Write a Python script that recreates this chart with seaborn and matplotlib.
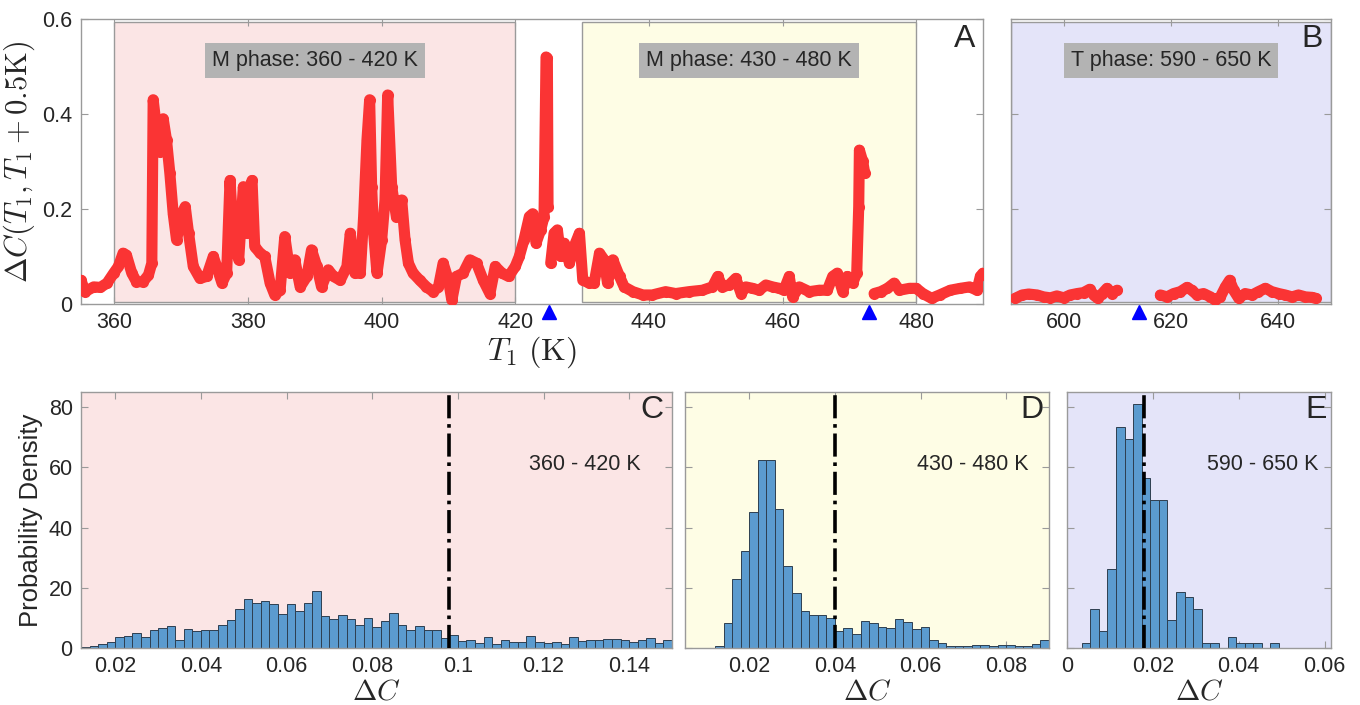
import numpy as np
import pandas as pd
import seaborn as sns
import matplotlib.pyplot as plt
from matplotlib.patches import Rectangle
from matplotlib.ticker import FuncFormatter

# ---- panel A / B : Delta C vs T1 (segments split at the phase transitions) ----
t_a1 = [355.0, 355.6, 356.9, 357.9, 358.9, 359.9, 360.6, 361.3, 361.8, 362.6, 363.3, 364.3, 365.1, 365.6,
        365.8, 366.3, 366.8, 367.3, 367.8, 368.3, 368.8, 369.3, 370.1, 370.6, 371.1, 371.8, 372.8, 373.8,
        374.8, 375.3, 376.1, 376.8, 377.3, 377.8, 378.6, 379.3, 379.8, 380.3, 380.6, 381.0, 381.8, 382.5,
        383.3, 384.0, 384.8, 385.5, 386.3, 387.0, 387.8, 388.8, 389.5, 390.3, 391.0, 392.0, 392.8, 393.8,
        394.8, 395.3, 396.0, 396.8, 397.3, 397.8, 398.2, 398.5, 398.8, 399.3, 400.0, 400.5, 400.9, 401.5,
        402.2, 403.0, 403.5, 404.0, 404.7, 405.7, 406.7, 407.7, 408.5, 409.2, 410.0, 410.5, 411.2, 412.2,
        413.2, 414.2, 415.2, 416.2, 417.0, 418.0, 419.0, 420.0, 420.6, 421.3, 422.1, 422.6, 423.1, 423.8,
        424.3, 424.6, 424.8, 424.9]
dc_a1 = [0.050, 0.026, 0.036, 0.035, 0.044, 0.065, 0.079, 0.107, 0.103, 0.065, 0.047, 0.047, 0.061, 0.086,
         0.430, 0.370, 0.320, 0.390, 0.345, 0.275, 0.190, 0.135, 0.190, 0.205, 0.149, 0.079, 0.054, 0.058,
         0.100, 0.079, 0.044, 0.065, 0.260, 0.149, 0.093, 0.247, 0.149, 0.247, 0.260, 0.121, 0.107, 0.100,
         0.044, 0.019, 0.029, 0.142, 0.065, 0.093, 0.036, 0.058, 0.114, 0.079, 0.036, 0.072, 0.058, 0.050,
         0.079, 0.149, 0.065, 0.065, 0.184, 0.345, 0.430, 0.247, 0.149, 0.065, 0.135, 0.219, 0.440, 0.247,
         0.184, 0.219, 0.135, 0.086, 0.065, 0.050, 0.036, 0.026, 0.036, 0.086, 0.050, 0.008, 0.058, 0.065,
         0.093, 0.086, 0.050, 0.022, 0.079, 0.065, 0.058, 0.079, 0.100, 0.135, 0.184, 0.190, 0.128, 0.156,
         0.184, 0.520, 0.517, 0.205]

t_a2 = [425.3, 425.8, 426.3, 426.8, 427.3, 428.1, 428.8, 429.6, 430.1, 431.1, 431.8, 432.6, 433.3, 433.8,
        434.6, 435.6, 436.3, 437.6, 439.1, 440.5, 442.5, 444.0, 446.0, 448.0, 449.5, 450.3, 451.0, 452.0,
        453.0, 453.8, 454.5, 455.5, 456.5, 457.5, 458.5, 459.5, 460.2, 461.0, 461.5, 462.5, 464.0, 465.5,
        466.7, 467.5, 468.2, 469.0, 469.7, 470.5, 471.1, 471.4, 471.5, 472.0, 472.3]
dc_a2 = [0.086, 0.149, 0.156, 0.100, 0.128, 0.086, 0.121, 0.149, 0.050, 0.044, 0.044, 0.107, 0.093, 0.044,
         0.093, 0.058, 0.036, 0.026, 0.019, 0.019, 0.026, 0.022, 0.026, 0.029, 0.036, 0.058, 0.036, 0.040,
         0.054, 0.022, 0.036, 0.033, 0.029, 0.040, 0.036, 0.033, 0.029, 0.058, 0.015, 0.036, 0.026, 0.029,
         0.029, 0.058, 0.065, 0.026, 0.058, 0.044, 0.065, 0.205, 0.324, 0.300, 0.275]

t_a3 = [473.7, 474.7, 475.7, 476.7, 477.5, 479.0, 480.0, 481.0, 482.3, 483.5, 485.1, 486.6, 488.0, 489.1,
        489.6, 490.0]
dc_a3 = [0.022, 0.026, 0.033, 0.044, 0.029, 0.033, 0.033, 0.022, 0.012, 0.019, 0.029, 0.033, 0.036, 0.029,
         0.058, 0.065]

t_b1 = [590.8, 592.1, 593.3, 594.9, 596.1, 597.4, 598.6, 599.9, 601.1, 602.4, 603.6, 604.75, 605.5, 606.25,
        607.1, 608.0, 608.9, 609.9]
dc_b1 = [0.012, 0.019, 0.021, 0.019, 0.015, 0.013, 0.017, 0.013, 0.019, 0.022, 0.024, 0.031, 0.019, 0.012,
         0.022, 0.033, 0.022, 0.029]

t_b2 = [618.0, 619.25, 620.5, 621.75, 623.0, 623.9, 624.9, 626.1, 627.4, 628.3, 629.25, 630.2, 631.0, 631.75,
        632.7, 633.9, 635.2, 636.4, 637.7, 638.9, 640.2, 641.4, 642.7, 643.9, 645.2, 646.4, 647.1]
dc_b2 = [0.019, 0.015, 0.022, 0.026, 0.035, 0.029, 0.019, 0.022, 0.015, 0.008, 0.015, 0.036, 0.050, 0.029,
         0.012, 0.022, 0.019, 0.026, 0.033, 0.026, 0.022, 0.019, 0.015, 0.019, 0.015, 0.014, 0.012]

trans_a = [425.0, 473.0]
trans_b = [614.0]

# ---- panels C / D / E : histograms of Delta C ----
bin_w = 0.002
start_c = 0.012
dens_c = [0.3, 0.7, 1.3, 2.1, 3.5, 4.1, 5.0, 3.8, 6.0, 6.7, 7.3, 2.5, 6.3, 5.7, 6.0, 6.0, 7.6, 9.2, 12.8,
          16.2, 14.9, 15.6, 14.7, 11.3, 14.7, 12.2, 14.9, 18.9, 10.5, 9.7, 10.8, 9.7, 7.8, 9.9, 7.1, 8.8,
          11.6, 7.6, 6.1, 7.3, 6.0, 6.0, 3.3, 4.3, 2.3, 2.8, 1.8, 3.5, 1.2, 2.8, 1.9, 1.9, 3.9, 2.1, 1.5,
          2.0, 1.2, 3.5, 2.3, 2.5, 2.5, 3.1, 2.9, 2.7, 2.0, 2.5, 3.3, 1.5, 2.7]
start_d = 0.012
dens_d = [0.8, 8.3, 22.8, 32.3, 45.3, 62.5, 62.5, 46.2, 27.2, 18.4, 12.4, 11.1, 11.1, 9.8, 5.7, 6.5, 4.7,
          8.9, 8.3, 6.9, 6.6, 9.5, 8.5, 6.2, 6.9, 2.5, 1.5, 0.8, 0.8, 0.8, 1.1, 1.1, 0.8, 1.1, 1.1, 0.8,
          0.8, 1.3, 2.5]
start_e = 0.0034
dens_e = [1.7, 13.1, 5.7, 26.3, 73.4, 69.5, 80.9, 56.5, 49.0, 49.0, 9.4, 18.7, 16.8, 13.1, 1.7, 1.7, 0.0,
          3.6, 1.7, 1.7, 1.7, 0.0, 1.7]
mean_c, mean_d, mean_e = 0.098, 0.040, 0.018

pink, yellow, lav = "#fbe5e5", "#fefde5", "#e4e4f9"
red, bar_col, grey = "#fa3434", "#5b9bcf", "#9a9a9a"

sns.set_theme(style="ticks")
plt.rcParams["font.family"] = ["Liberation Sans", "DejaVu Sans"]
plt.rcParams["mathtext.fontset"] = "cm"
fs = 15.5

W, H = 1360, 705
fig = plt.figure(figsize=(W / 100, H / 100), dpi=100)


def box(l, t, r, b):
    return [l / W, 1 - b / H, (r - l) / W, (b - t) / H]


axA = fig.add_axes(box(81, 19, 983, 304))
axB = fig.add_axes(box(1011, 19, 1331, 304))
axC = fig.add_axes(box(81, 392, 672, 648))
axD = fig.add_axes(box(685, 392, 1049, 648))
axE = fig.add_axes(box(1067, 392, 1331, 648))

fmt = FuncFormatter(lambda v, p: "%g" % round(v, 4))

for ax in [axA, axB, axC, axD, axE]:
    for s in ax.spines.values():
        s.set_color(grey)
        s.set_linewidth(1.0)
    ax.tick_params(direction="in", top=True, right=True, length=5, width=0.8, color=grey,
                   labelsize=fs, pad=6)

# shaded phase windows
axA.add_patch(Rectangle((360, 0.004), 60, 0.589, facecolor=pink, edgecolor=grey, lw=1, zorder=0))
axA.add_patch(Rectangle((430, 0.004), 50, 0.589, facecolor=yellow, edgecolor=grey, lw=1, zorder=0))
axB.add_patch(Rectangle((590, 0.004), 60, 0.589, facecolor=lav, edgecolor=grey, lw=1, zorder=0))

for ax, segs in [(axA, [(t_a1, dc_a1), (t_a2, dc_a2), (t_a3, dc_a3)]),
                 (axB, [(t_b1, dc_b1), (t_b2, dc_b2)])]:
    for t, d in segs:
        seg = pd.DataFrame({"T": t, "dC": d})
        sns.lineplot(data=seg, x="T", y="dC", ax=ax, color=red, linewidth=8.0, sort=False,
                     marker="o", markersize=8.0, markeredgewidth=0, solid_capstyle="round",
                     solid_joinstyle="round", zorder=3)

for ax, tr in [(axA, trans_a), (axB, trans_b)]:
    ax.plot(tr, [-0.028] * len(tr), "^", color="#0000ff", ms=10, mec="#0000ff",
            transform=ax.get_xaxis_transform(), clip_on=False, zorder=5)
    ax.set_ylim(0, 0.6)
    ax.set_yticks([0, 0.2, 0.4, 0.6])
    ax.set_xlabel("")
    ax.set_ylabel("")

axA.set_xlim(355, 490)
axA.set_xticks([360, 380, 400, 420, 440, 460, 480])
axB.set_xlim(590, 650)
axB.set_xticks([600, 620, 640])
axB.tick_params(labelleft=False)

axA.set_ylabel(r"$\Delta C(T_1, T_1 + 0.5\mathrm{K})$", fontsize=22, labelpad=4)
axA.set_xlabel(r"$T_1\ (\mathrm{K})$", fontsize=23, labelpad=1)

bkw = dict(facecolor="#b3b3b3", edgecolor="none", pad=5)
axA.text(390, 0.512, "M phase: 360 - 420 K", ha="center", va="center", fontsize=fs, bbox=bkw)
axA.text(455, 0.512, "M phase: 430 - 480 K", ha="center", va="center", fontsize=fs, bbox=bkw)
axB.text(620, 0.512, "T phase: 590 - 650 K", ha="center", va="center", fontsize=fs, bbox=bkw)

axA.text(0.992, 0.93, "A", transform=axA.transAxes, ha="right", va="center", fontsize=23)
axB.text(0.975, 0.93, "B", transform=axB.transAxes, ha="right", va="center", fontsize=23)

# histograms
for ax, start, dens, mean, bg, lab, let, lx in [
        (axC, start_c, dens_c, mean_c, pink, "360 - 420 K", "C", 0.853),
        (axD, start_d, dens_d, mean_d, yellow, "430 - 480 K", "D", 0.79),
        (axE, start_e, dens_e, mean_e, lav, "590 - 650 K", "E", 0.74)]:
    ax.set_facecolor(bg)
    edges = [start + bin_w * i for i in range(len(dens) + 1)]
    hist_df = pd.DataFrame({"x": [0.5 * (edges[i] + edges[i + 1]) for i in range(len(dens))],
                            "w": dens})
    sns.histplot(data=hist_df, x="x", weights="w", bins=edges, ax=ax, color=bar_col, alpha=1.0,
                 edgecolor="#2e3f50", linewidth=0.7, zorder=2)
    ax.axvline(mean, color="black", ls="-.", lw=2.6, zorder=4)
    ax.set_ylim(0, 85)
    ax.set_yticks([0, 20, 40, 60, 80])
    ax.set_ylabel("")
    ax.set_xlabel(r"$\Delta C$", fontsize=21, labelpad=0)
    ax.text(lx, 0.715, lab, transform=ax.transAxes, ha="center", va="center", fontsize=fs)
    ax.text(0.985, 0.93, let, transform=ax.transAxes, ha="right", va="center", fontsize=23)

axC.set_xlim(0.012, 0.150)
axC.set_xticks([0.02, 0.04, 0.06, 0.08, 0.1, 0.12, 0.14])
axC.set_ylabel("Probability Density", fontsize=18.5, labelpad=4)
axD.set_xlim(0.005, 0.09)
axD.set_xticks([0.02, 0.04, 0.06, 0.08])
axE.set_xlim(0.0, 0.0615)
axE.set_xticks([0, 0.02, 0.04, 0.06])
axD.tick_params(labelleft=False)
axE.tick_params(labelleft=False)

for ax in [axA, axB, axC, axD, axE]:
    ax.xaxis.set_major_formatter(fmt)
    ax.yaxis.set_major_formatter(fmt)

fig.savefig("out.png", dpi=100)
